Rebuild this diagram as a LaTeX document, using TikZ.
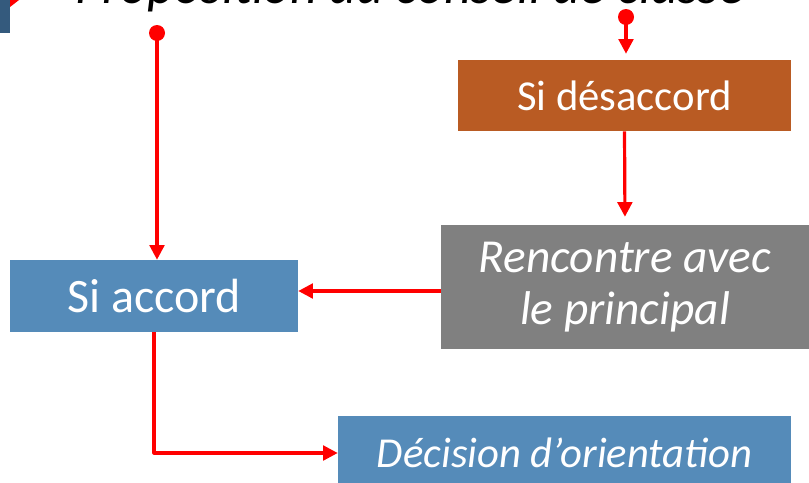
\documentclass[tikz,border=0pt]{standalone}
\usepackage{fontspec}
\setmainfont{Carlito}
\usetikzlibrary{arrows.meta}
\definecolor{bleu}{RGB}{85,139,185}
\definecolor{orange}{RGB}{185,91,35}
\definecolor{gris}{RGB}{128,128,128}
\definecolor{marine}{RGB}{52,90,125}
\begin{document}
\begin{tikzpicture}[x=0.75pt,y=-0.75pt, line join=round,
		boite/.style={inner sep=0pt, text=white, align=center, font=\fontsize{32}{39}\selectfont},
		fleche/.style={red, line width=2.4pt, -{Triangle[length=11pt,width=11pt]}},
		pastille/.style={circle, fill=red, inner sep=0pt, minimum size=12pt}]
	\useasboundingbox (0,0) rectangle (809,482);
	% bord de la diapo
	\fill[marine] (0,0) rectangle (10,33);
	\fill[red] (10,0)--(19,0)--(10,7)--cycle;
	\node[anchor=base, font=\fontsize{39.5}{44}\selectfont\itshape] (titre) at (410,3) {Proposition du conseil de classe};
	% les cases
	\node[boite, fill=bleu, minimum width=216pt, minimum height=54pt, font=\fontsize{36}{39}\selectfont] (accord) at (154,296) {Si accord};
	\node[boite, fill=orange, minimum width=249.75pt, minimum height=53.25pt] (desaccord) at (624.5,95.5) {Si désaccord};
	\node[boite, fill=gris, minimum width=276pt, minimum height=93pt, font=\fontsize{35.5}{39}\selectfont\itshape] (rencontre) at (625,287) {Rencontre avec\\le principal};
	\node[boite, fill=bleu, minimum width=339.75pt, minimum height=55.5pt, font=\fontsize{32}{36}\selectfont\itshape] (decision) at (564.5,453) {Décision d’orientation};
	\node[pastille] (pointA) at (157,33) {};
	\node[pastille] (pointB) at (626,17) {};
	% fleches
	\draw[fleche] (pointA.center)--(pointA |- accord.north);
	\draw[fleche, shorten >=4.5pt] (pointB.center)--(pointB |- desaccord.north);
	\draw[fleche, shorten >=6pt] (desaccord.south)--(rencontre.north);
	\draw[fleche] ([yshift=-3pt]rencontre.west)--([yshift=-3pt]rencontre.west -| accord.east);
	\draw[fleche] (accord.south) |- (decision.west);
\end{tikzpicture}
\end{document}
